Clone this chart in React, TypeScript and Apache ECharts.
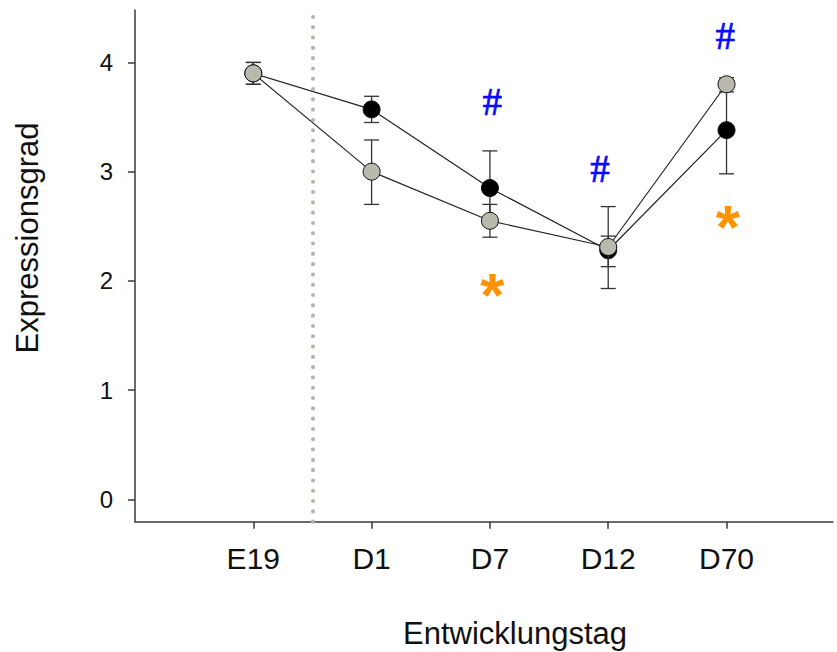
import React, { useEffect, useRef } from "react";
import * as echarts from "echarts";

const categories = ["E19", "D1", "D7", "D12", "D70"];
const yTicks = [0, 1, 2, 3, 4];

const blackMean = [3.9, 3.57, 2.85, 2.28, 3.38];
const blackLow = [3.8, 3.45, 2.51, 1.93, 2.98];
const blackHigh = [4.0, 3.69, 3.19, 2.68, 3.79];

const grayMean = [3.9, 3.0, 2.55, 2.31, 3.8];
const grayLow = [3.8, 2.7, 2.4, 2.13, 3.73];
const grayHigh = [4.0, 3.29, 2.7, 2.41, 3.86];

const hashX = [2.02, 2.93, 3.99];
const hashY = [3.64, 3.03, 4.25];
const starX = [2.02, 4.01];
const starY = [1.97, 2.59];

const separatorX = 0.5;

const FONT = "'Liberation Sans', Arial, sans-serif";

export default function App() {
  const ref = useRef<HTMLDivElement>(null);

  useEffect(() => {
    document.body.style.margin = "0";
    const chart = echarts.init(ref.current!, null, { renderer: "svg" });

    const errData = (lo: number[], hi: number[]) =>
      categories.map((_, i) => [i, lo[i], hi[i]]);

    const errSeries = (lo: number[], hi: number[], z: number) => ({
      type: "custom",
      z,
      silent: true,
      data: errData(lo, hi),
      encode: { x: 0, y: [1, 2] },
      renderItem: (params: any, api: any) => {
        const x = api.value(0);
        const pLo = api.coord([x, api.value(1)]);
        const pHi = api.coord([x, api.value(2)]);
        const w = 7.5;
        const style = { stroke: "#333333", lineWidth: 1.3 };
        return {
          type: "group",
          children: [
            { type: "line", shape: { x1: pLo[0], y1: pLo[1], x2: pHi[0], y2: pHi[1] }, style },
            { type: "line", shape: { x1: pLo[0] - w, y1: pLo[1], x2: pLo[0] + w, y2: pLo[1] }, style },
            { type: "line", shape: { x1: pHi[0] - w, y1: pHi[1], x2: pHi[0] + w, y2: pHi[1] }, style },
          ],
        };
      },
    });

    const lineSeries = (mean: number[], fill: string, z: number, name: string) => ({
      type: "line",
      name,
      z,
      silent: true,
      data: categories.map((_, i) => [i, mean[i]]),
      symbol: "circle",
      symbolSize: 17,
      showSymbol: true,
      itemStyle: { color: fill, borderColor: "#111111", borderWidth: 1 },
      lineStyle: { color: "#222222", width: 1.2 },
    });

    chart.setOption({
      animation: false,
      grid: { left: 135, right: 4, top: 10, bottom: 130.3, containLabel: false },
      xAxis: {
        type: "value",
        min: -1,
        max: 4.9,
        splitLine: { show: false },
        axisLine: { show: true, onZero: false, lineStyle: { color: "#3a3a3a", width: 1.5 } },
        axisTick: {
          show: true,
          length: 7,
          lineStyle: { color: "#3a3a3a", width: 1.5 },
          customValues: categories.map((_, i) => i),
        },
        axisLabel: {
          fontFamily: FONT,
          fontSize: 30,
          color: "#111111",
          margin: 22,
          customValues: categories.map((_, i) => i),
          formatter: (v: number) => categories[Math.round(v)] ?? "",
        },
      },
      yAxis: {
        type: "value",
        min: -0.205,
        max: 4.48,
        splitLine: { show: false },
        axisLine: { show: true, onZero: false, lineStyle: { color: "#3a3a3a", width: 1.5 } },
        axisTick: {
          show: true,
          length: 7,
          lineStyle: { color: "#3a3a3a", width: 1.5 },
          customValues: yTicks,
        },
        axisLabel: {
          fontFamily: FONT,
          fontSize: 24,
          color: "#111111",
          margin: 22,
          customValues: yTicks,
          formatter: (v: number) => String(v),
        },
      },
      graphic: [
        {
          type: "text",
          x: 27,
          y: 238,
          rotation: Math.PI / 2,
          style: {
            text: "Expressionsgrad",
            fontFamily: FONT,
            fontSize: 31,
            fill: "#111111",
            align: "center",
            verticalAlign: "middle",
          },
        },
        {
          type: "text",
          x: 515,
          y: 633,
          style: {
            text: "Entwicklungstag",
            fontFamily: FONT,
            fontSize: 31,
            fill: "#111111",
            align: "center",
            verticalAlign: "middle",
          },
        },
      ],
      series: [
        {
          type: "line",
          data: [],
          silent: true,
          z: 0,
          markLine: {
            silent: true,
            symbol: "none",
            label: { show: false },
            lineStyle: {
              color: "#b3b3a8",
              width: 4,
              type: [0.1, 10.2],
              cap: "round",
            },
            data: [{ xAxis: separatorX }],
          },
        },
        errSeries(blackLow, blackHigh, 1),
        lineSeries(blackMean, "#000000", 2, "black"),
        errSeries(grayLow, grayHigh, 3),
        lineSeries(grayMean, "#b9b9ad", 4, "gray"),
        {
          type: "scatter",
          z: 5,
          silent: true,
          symbolSize: 1,
          itemStyle: { color: "rgba(0,0,0,0)", opacity: 1 },
          data: hashX.map((x, i) => [x, hashY[i]]),
          label: {
            show: true,
            position: "inside",
            formatter: "#",
            fontFamily: "'Liberation Serif', 'Times New Roman', serif",
            fontSize: 39,
            color: "#0a0aff",
            opacity: 1,
            textBorderColor: "#0a0aff",
            textBorderWidth: 0.7,
          },
        },
        {
          type: "scatter",
          z: 5,
          silent: true,
          symbolSize: 1,
          itemStyle: { color: "rgba(0,0,0,0)", opacity: 1 },
          data: starX.map((x, i) => [x, starY[i]]),
          label: {
            show: true,
            position: "inside",
            formatter: "*",
            fontFamily: FONT,
            fontWeight: "bold",
            fontSize: 62,
            color: "#ff9200",
            opacity: 1,
            textBorderWidth: 0,
            offset: [0, 10],
          },
        },
      ],
    });

    return () => chart.dispose();
  }, []);

  return <div ref={ref} style={{ width: 837, height: 652 }} />;
}
